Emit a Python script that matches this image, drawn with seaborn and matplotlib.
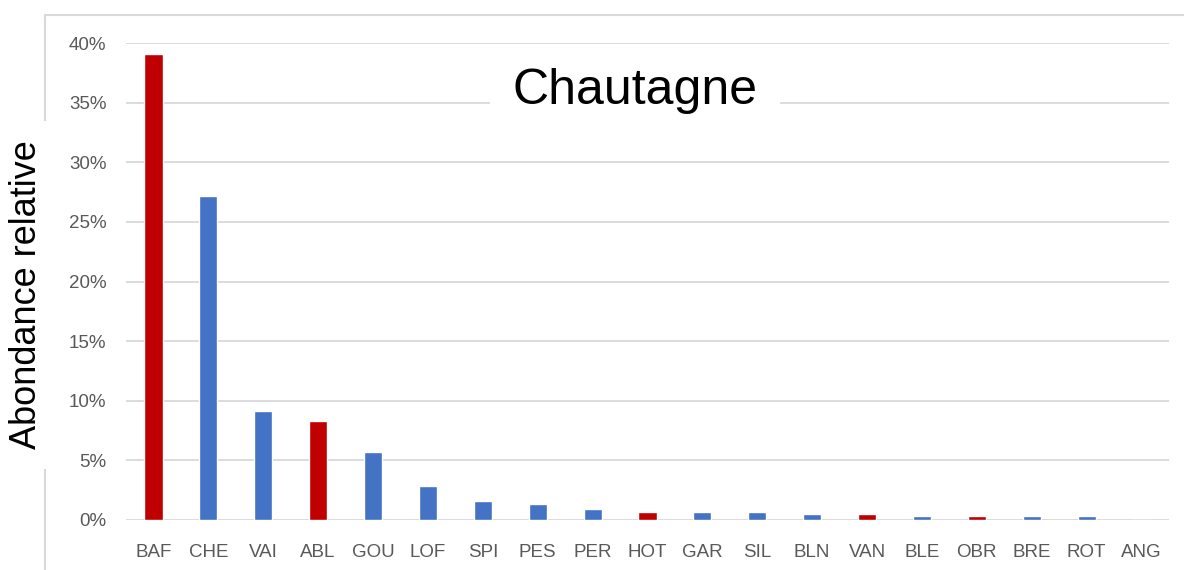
import matplotlib
matplotlib.use("Agg")
import matplotlib.pyplot as plt
from matplotlib.lines import Line2D
import pandas as pd
import seaborn as sns

species = ["BAF", "CHE", "VAI", "ABL", "GOU", "LOF", "SPI", "PES", "PER", "HOT",
           "GAR", "SIL", "BLN", "VAN", "BLE", "OBR", "BRE", "ROT", "ANG"]
abondance = [39.1, 27.2, 9.1, 8.3, 5.7, 2.85, 1.6, 1.35, 0.9, 0.7,
             0.7, 0.7, 0.5, 0.5, 0.3, 0.3, 0.3, 0.3, 0.0]
groupe = ["r", "b", "b", "r", "b", "b", "b", "b", "b", "r",
          "b", "b", "b", "r", "b", "r", "b", "b", "b"]
couleurs = {"r": "#C00000", "b": "#4472C4"}
yticks = [0, 5, 10, 15, 20, 25, 30, 35, 40]

df = pd.DataFrame({"espece": species, "val": abondance, "grp": groupe})

sns.set_style("white")
plt.rcParams['font.family'] = ["Liberation Sans", "DejaVu Sans"]

fig = plt.figure(figsize = (11.84, 5.70), dpi = 100)
ax = fig.add_axes([126 / 1184, 1 - 520 / 570, (1169 - 126) / 1184, (520 - 43) / 570])

sns.barplot(data = df, x = "espece", y = "val", hue = "grp", palette = couleurs,
            width = 0.33, dodge = False, legend = False, saturation = 1, ax = ax, zorder = 3)

ax.set_ylim(0, 40)
ax.set_xlim(-0.5, len(species) - 0.5)
ax.set_yticks(yticks)
ax.set_yticklabels([str(t) + "%" for t in yticks])
ax.yaxis.grid(True, color = "#d9d9d9", linewidth = 1.3, zorder = 0)
ax.set_axisbelow(True)
for s in ax.spines.values():
    s.set_visible(False)
ax.tick_params(axis = "both", length = 0, labelsize = 13.5, labelcolor = "#595959")
ax.tick_params(axis = "y", pad = 14)
ax.tick_params(axis = "x", pad = 17)
ax.set_xlabel("")
ax.set_ylabel("")

# outer chart frame (top and left only)
fig.add_artist(Line2D([45 / 1184, 1], [1 - 15 / 570, 1 - 15 / 570], color = "#d9d9d9", linewidth = 1.5))
fig.add_artist(Line2D([45 / 1184, 45 / 1184], [0, 1 - 15 / 570], color = "#d9d9d9", linewidth = 1.5))

fig.text(635 / 1184, 1 - 91 / 570, "Chautagne", fontsize = 36, ha = "center", va = "center",
         color = "black",
         bbox = dict(facecolor = "white", edgecolor = "none", boxstyle = "square,pad=0.45"), zorder = 5)
fig.text(27 / 1184, 1 - 295 / 570, "Abondance relative", fontsize = 26, rotation = 90,
         ha = "center", va = "center", color = "black",
         bbox = dict(facecolor = "white", edgecolor = "none", boxstyle = "square,pad=0.55"), zorder = 5)

fig.savefig("out.png", dpi = 100)
